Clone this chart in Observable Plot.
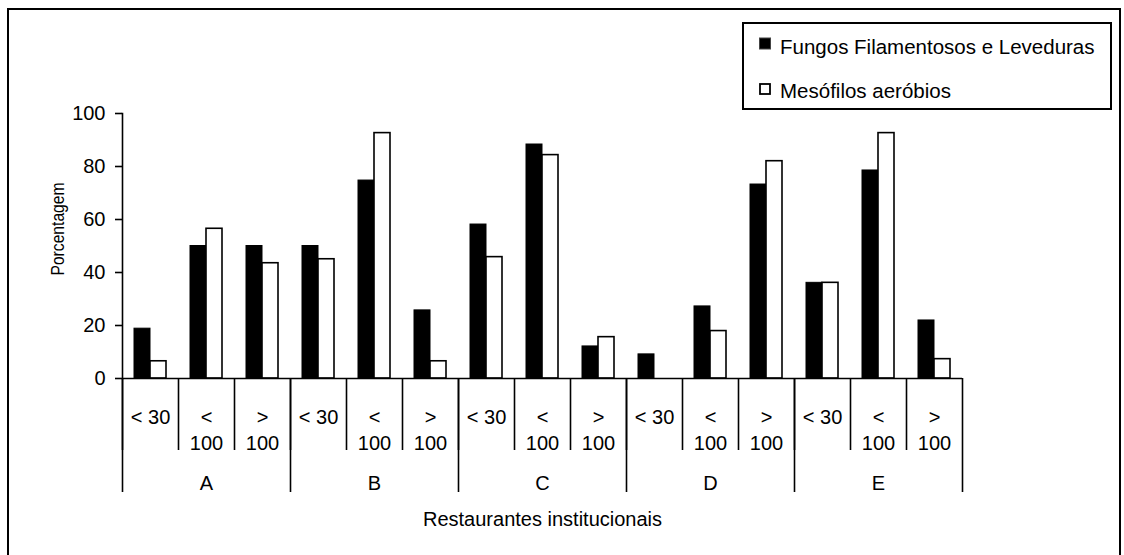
<!DOCTYPE html>
<html>
<head>
<meta charset="utf-8">
<script src="https://cdn.jsdelivr.net/npm/d3@7"></script>
<script src="https://cdn.jsdelivr.net/npm/@observablehq/plot@0.6"></script>
<style>
  html, body { margin: 0; padding: 0; background: white; overflow: hidden; }
  #wrap { position: relative; width: 1124px; height: 555px; }
  #chart { position: absolute; left: 0; top: 0; }
  #border { position: absolute; left: 7px; top: 8px; width: 1110px; height: 600px;
            border: 2.5px solid black; border-bottom: none; pointer-events: none; }
  #legend { position: absolute; left: 0; top: 0; }
</style>
</head>
<body>
<div id="wrap">
  <div id="chart"></div>
  <div id="border"></div>
  <svg id="legend" width="1124" height="120"></svg>
</div>
<script>
const groups = ["A", "B", "C", "D", "E"];
const sizes = ["< 30", "< 100", "> 100"];
const seriesNames = ["Fungos Filamentosos e Leveduras", "Mesófilos aeróbios"];
const fungos =    [18.8, 50, 50,   50, 74.7, 25.7,   58.1, 88.3, 12.1,   9.1, 27.2, 73.2,   36.1, 78.5, 21.9];
const mesofilos = [6.5, 56.5, 43.5, 45, 92.6, 6.5,   45.8, 84.3, 15.6,   0, 17.9, 82,       36.1, 92.6, 7.3];
const yTicks = [0, 20, 40, 60, 80, 100];
const yLabel = "Porcentagem";
const xLabel = "Restaurantes institucionais";

const rows = [];
groups.forEach((g, i) => sizes.forEach((s, j) => {
  const k = i * sizes.length + j;
  rows.push({key: g + "|" + s, group: g, size: s, fungos: fungos[k], meso: mesofilos[k], first: j === 0, mid: j === 1});
}));
const keys = rows.map(d => d.key);
const sizeText = s => s === "< 30" ? s : s.replace(" ", "\n");

const font = "'Liberation Sans', Arial, sans-serif";

const chart = Plot.plot({
  width: 1124, height: 555,
  marginLeft: 122, marginRight: 162, marginTop: 113, marginBottom: 177,
  style: {fontFamily: font, fontSize: "20px", color: "black", background: "none"},
  x: {type: "band", domain: keys, padding: 0, axis: null},
  y: {domain: [0, 100], axis: null},
  marks: [
    Plot.barY(rows, {x: "key", y: "fungos", fill: "black", stroke: "black", strokeWidth: 1, insetLeft: 12, insetRight: 28}),
    Plot.barY(rows.filter(d => d.meso > 0), {x: "key", y: "meso", fill: "white", stroke: "black", strokeWidth: 1.6, insetLeft: 28, insetRight: 12}),
    Plot.axisY({ticks: yTicks, tickSize: 7, tickPadding: 10, label: null, tickFormat: d => String(d), fontSize: 20, strokeWidth: 1.6}),
    Plot.frame({anchor: "left", strokeWidth: 1.6}),
    Plot.ruleY([0], {strokeWidth: 1.6}),
    // inner category boundaries
    Plot.ruleX(rows, {x: "key", dx: -28, insetTop: 265, insetBottom: -72, strokeWidth: 1.6}),
    // group boundaries
    Plot.ruleX(rows.filter(d => d.first), {x: "key", dx: -28, insetTop: 265, insetBottom: -114, strokeWidth: 1.6}),
    Plot.ruleX([keys[keys.length - 1]], {x: d => d, dx: 28, insetTop: 265, insetBottom: -114, strokeWidth: 1.6}),
    // category labels
    Plot.text(rows, {x: "key", text: d => sizeText(d.size), frameAnchor: "bottom", lineAnchor: "top", dy: 27, lineHeight: 1.3, fontSize: 20}),
    // group labels
    Plot.text(rows.filter(d => d.mid), {x: "key", text: "group", frameAnchor: "bottom", lineAnchor: "top", dy: 97, fontSize: 20}),
    // axis titles
    Plot.text([xLabel], {frameAnchor: "bottom", lineAnchor: "top", dy: 133, fontSize: 20}),
    Plot.text([yLabel], {frameAnchor: "left", textAnchor: "middle", lineAnchor: "middle", rotate: -90, dx: -65, dy: -17, fontSize: 19})
  ]
});
document.getElementById("chart").appendChild(chart);
chart.querySelectorAll("text").forEach(t => {
  if (t.textContent === yLabel) { t.setAttribute("textLength", 93); t.setAttribute("lengthAdjust", "spacingAndGlyphs"); }
});

// legend
const leg = d3.select("#legend").style("font-family", font).style("font-size", "20.5px");
leg.append("rect").attr("x", 743).attr("y", 23).attr("width", 368).attr("height", 86)
  .attr("fill", "white").attr("stroke", "black").attr("stroke-width", 2);
const swFill = ["black", "white"];
const swY = [38, 84];
const txtY = [54, 97.5];
seriesNames.forEach((name, i) => {
  leg.append("rect").attr("x", i === 0 ? 759.5 : 760).attr("y", swY[i]).attr("width", i === 0 ? 11 : 10).attr("height", i === 0 ? 11 : 10)
    .attr("fill", swFill[i]).attr("stroke", i === 0 ? "#444" : "black").attr("stroke-width", i === 0 ? 1 : 1.8);
  leg.append("text").attr("x", 780).attr("y", txtY[i]).text(name);
});
</script>
</body>
</html>
